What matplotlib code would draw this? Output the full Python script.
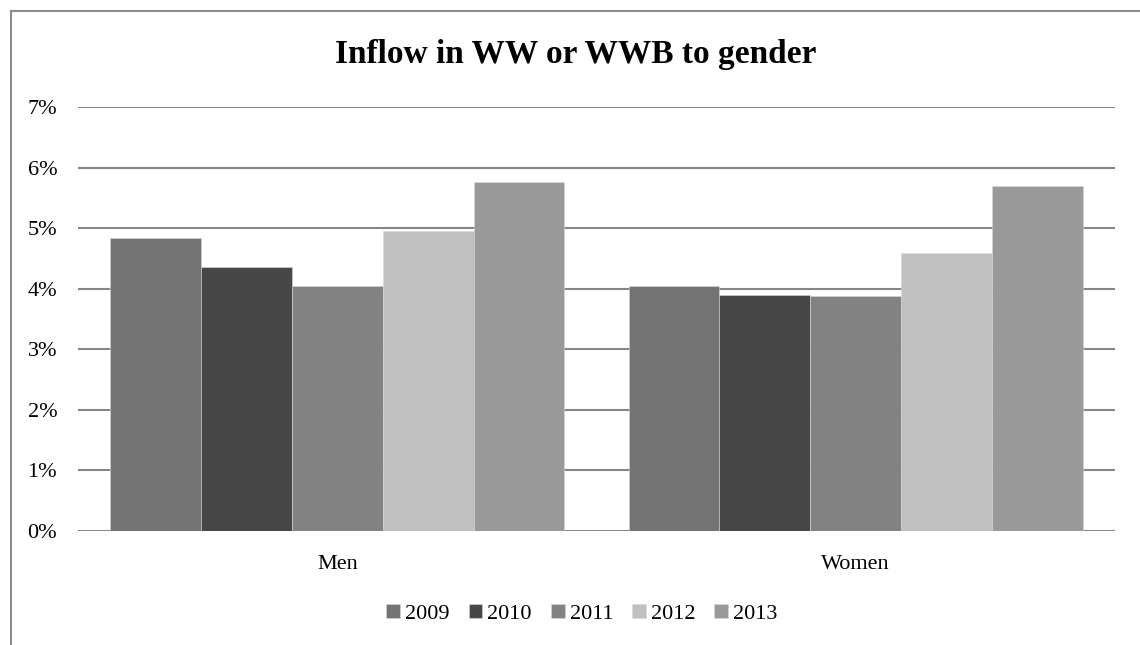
import matplotlib
matplotlib.use("Agg")
import matplotlib.pyplot as plt
from matplotlib.lines import Line2D
from matplotlib.ticker import FuncFormatter
import numpy as np

categories = ["Men", "Women"]
years = ["2009", "2010", "2011", "2012", "2013"]
values = {
    "2009": [4.84, 4.04],
    "2010": [4.36, 3.90],
    "2011": [4.05, 3.88],
    "2012": [4.95, 4.59],
    "2013": [5.76, 5.70],
}
colors = ["#737373", "#474747", "#828282", "#c0c0c0", "#999999"]
title = "Inflow in WW or WWB to gender"

plt.rcParams["font.family"] = ["Liberation Serif", "DejaVu Serif"]

W, H = 1140, 645
fig = plt.figure(figsize=(W / 100, H / 100), dpi=100)
ax = fig.add_axes([78 / W, 1 - 531 / H, (1115 - 78) / W, (531 - 107) / H])

x = np.arange(len(categories))
group = 0.876
bw = group / len(years)
for i, (yr, c) in enumerate(zip(years, colors)):
    offs = -group / 2 + bw * (i + 0.5)
    ax.bar(x + offs, values[yr], width=bw, color=c, label=yr, zorder=3,
           edgecolor="#d8d8d8", linewidth=0.4)

ax.set_xlim(-0.5, 1.5)
ax.set_ylim(0, 7)
ax.set_yticks(range(0, 8))
ax.yaxis.set_major_formatter(FuncFormatter(lambda v, p: f"{int(v)}%"))
ax.set_xticks(x)
ax.set_xticklabels(categories)
ax.grid(axis="y", color="#868686", linewidth=1.5, zorder=0)
for s in ax.spines.values():
    s.set_visible(False)
ax.tick_params(axis="both", length=0, labelsize=16, colors="#000000")
ax.tick_params(axis="y", pad=15)
ax.tick_params(axis="x", pad=17)

fig.text(576 / W, 1 - 63 / H, title, ha="center", va="baseline",
         fontsize=24, fontweight="bold")

leg = fig.legend(loc="center", bbox_to_anchor=(582 / W, 1 - 614 / H),
                 ncol=5, frameon=False, fontsize=16, handlelength=0.62,
                 handleheight=0.62, handletextpad=0.23, columnspacing=0.85,
                 borderpad=0, borderaxespad=0)

# outer frame (left and top edges)
fig.add_artist(Line2D([11 / W, 11 / W], [0, 1 - 11 / H], transform=fig.transFigure,
                      color="#8c8c8c", linewidth=1.5))
fig.add_artist(Line2D([11 / W, 1], [1 - 11 / H, 1 - 11 / H], transform=fig.transFigure,
                      color="#8c8c8c", linewidth=1.5))

fig.savefig("out.png", dpi=100, facecolor="white")
